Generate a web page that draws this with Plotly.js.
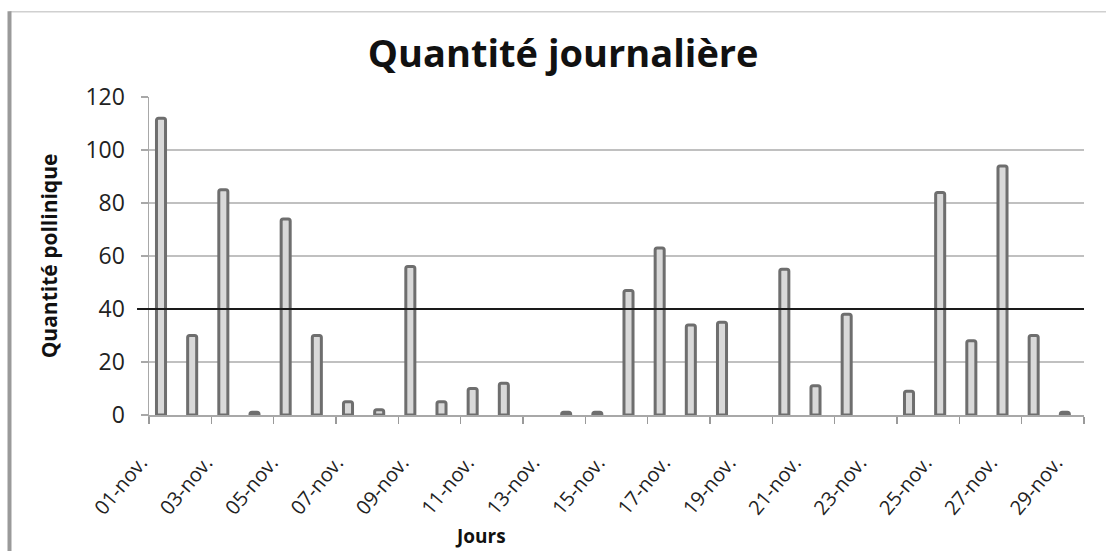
<!DOCTYPE html>
<html>
<head>
<meta charset="utf-8">
<script src="https://cdn.plot.ly/plotly-3.0.1.min.js"></script>
<style>
  html, body { margin: 0; padding: 0; background: #ffffff; }
  #chart { width: 1106px; height: 551px; }
</style>
</head>
<body>
<div id="chart"></div>
<script>
// ---- Data ----
const categories = [
  "01-nov.", "02-nov.", "03-nov.", "04-nov.", "05-nov.", "06-nov.", "07-nov.", "08-nov.", "09-nov.", "10-nov.",
  "11-nov.", "12-nov.", "13-nov.", "14-nov.", "15-nov.", "16-nov.", "17-nov.", "18-nov.", "19-nov.", "20-nov.",
  "21-nov.", "22-nov.", "23-nov.", "24-nov.", "25-nov.", "26-nov.", "27-nov.", "28-nov.", "29-nov.", "30-nov."
];
const quantites = [
  112, 30, 85, 1, 74, 30, 5, 2, 56, 5,
  10, 12, 0, 1, 1, 47, 63, 34, 35, 0,
  55, 11, 38, 0, 9, 84, 28, 94, 30, 1
];
const seuil = 40;
const titre = "Quantité journalière";
const titreY = "Quantité pollinique";
const titreX = "Jours";

// labels shown every second day
const labelIdx = categories.map((c, i) => i).filter(i => i % 2 === 0);
const labelText = labelIdx.map(i => categories[i]);

const FONT = "'Open Sans', Lato, sans-serif";

const traces = [
  {
    type: "bar",
    x: categories,
    y: quantites,
    width: 0.29,
    offset: -0.26,
    marker: {
      color: "#d9d9d9",
      line: { color: "#6e6e6e", width: quantites.map(v => (v > 0 ? 3 : 0)) },
      cornerradius: 2
    },
    hoverinfo: "x+y"
  },
  {
    // invisible carrier for the label axis
    type: "scatter",
    mode: "markers",
    x: labelIdx,
    y: labelIdx.map(() => null),
    xaxis: "x2",
    yaxis: "y",
    marker: { opacity: 0 },
    hoverinfo: "skip",
    showlegend: false
  }
];

const layout = {
  width: 1106,
  height: 551,
  margin: { l: 149, r: 22, t: 97, b: 136 },
  paper_bgcolor: "#ffffff",
  plot_bgcolor: "#ffffff",
  showlegend: false,
  font: { family: FONT, color: "#222222" },
  title: {
    text: titre,
    font: { family: FONT, size: 38, color: "#111111", weight: "bold" },
    x: 0.443, xref: "paper", xanchor: "center",
    y: 1 - 54 / 551, yref: "container", yanchor: "middle"
  },
  xaxis: {
    type: "category",
    range: [-0.5, 29.5],
    tickmode: "linear",
    tick0: 0,
    dtick: 2,
    tickson: "boundaries",
    ticks: "outside",
    ticklen: 7,
    tickcolor: "#9a9a9a",
    tickwidth: 1.5,
    showticklabels: false,
    showline: true,
    linecolor: "#a8a8a8",
    linewidth: 1.5,
    showgrid: false,
    zeroline: false,
    fixedrange: true
  },
  xaxis2: {
    overlaying: "x",
    anchor: "y",
    side: "bottom",
    type: "linear",
    range: [-0.477, 28.12],
    tickmode: "array",
    tickvals: labelIdx,
    ticktext: labelText,
    ticks: "",
    tickangle: -50,
    ticklabelstandoff: 31,
    ticklabelshift: -24,
    tickfont: { family: FONT, size: 20, color: "#222222" },
    showline: false,
    showgrid: false,
    zeroline: false,
    fixedrange: true
  },
  yaxis: {
    range: [0, 120],
    tickmode: "linear",
    tick0: 0,
    dtick: 20,
    ticks: "outside",
    ticklen: 7,
    tickcolor: "#a8a8a8",
    tickwidth: 1.5,
    ticklabelstandoff: 11,
    tickfont: { family: FONT, size: 23, color: "#222222" },
    showline: true,
    linecolor: "#a8a8a8",
    linewidth: 1.5,
    showgrid: true,
    gridcolor: "#c0c0c0",
    gridwidth: 1.5,
    zeroline: false,
    title: {
      text: titreY,
      font: { family: FONT, size: 21, color: "#111111", weight: "bold" },
      standoff: 22
    },
    fixedrange: true
  },
  shapes: [
    { type: "line", xref: "paper", yref: "y", x0: -0.0128, x1: 1, y0: seuil, y1: seuil,
      line: { color: "#1a1a1a", width: 2 }, layer: "above" },
    { type: "line", xref: "paper", yref: "paper", x0: -0.1492, x1: 1.03, y0: 1.268, y1: 1.268,
      line: { color: "#d0d0d0", width: 1.5 } },
    { type: "line", xref: "paper", yref: "paper", x0: -0.1492, x1: -0.1492, y0: 1.27, y1: -0.45,
      line: { color: "#9a9a9a", width: 4 } }
  ],
  annotations: [
    { text: titreX, xref: "paper", yref: "paper", x: 0.355, y: -0.38,
      xanchor: "center", yanchor: "middle", showarrow: false,
      font: { family: FONT, size: 19, color: "#111111", weight: "bold" } }
  ]
};

Plotly.newPlot("chart", traces, layout, { displayModeBar: false, staticPlot: true });
</script>
</body>
</html>
